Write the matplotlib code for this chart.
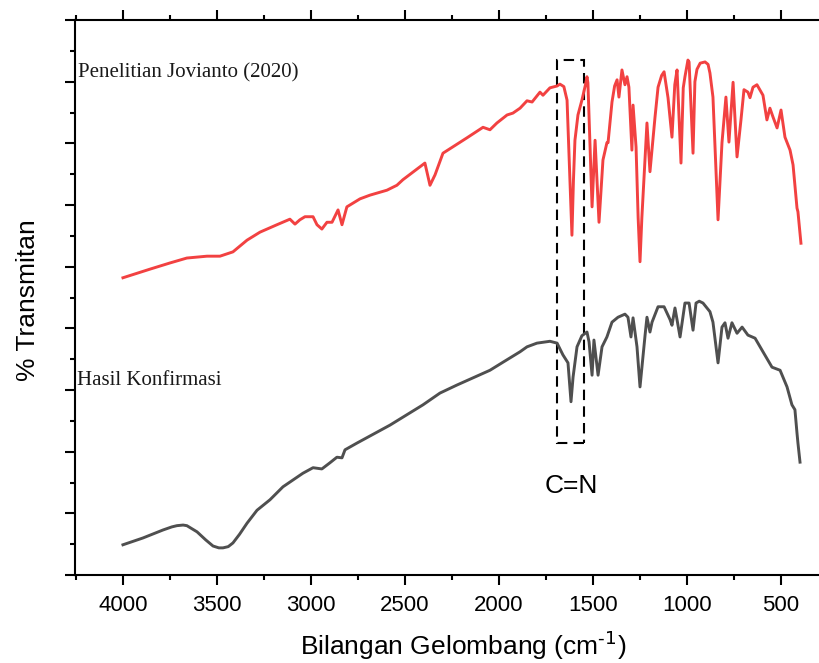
import matplotlib
matplotlib.use("Agg")
import matplotlib.pyplot as plt
from matplotlib.patches import Rectangle
from matplotlib.ticker import MultipleLocator

plt.rcParams["font.family"] = ["Liberation Sans", "DejaVu Sans"]

# spektrum penelitian Jovianto (2020)
wn_ref = [4000, 3856, 3750, 3660, 3553, 3484, 3415, 3340, 3271, 3181, 3112, 3085, 3059,
          3032, 2989, 2968, 2942, 2915, 2888, 2856, 2835, 2809, 2739, 2686, 2596, 2543,
          2511, 2394, 2367, 2340, 2298, 2170, 2085, 2048, 2011, 1957, 1926, 1888, 1851,
          1824, 1782, 1766, 1729, 1691, 1676, 1655, 1638, 1625, 1612, 1604, 1596, 1580,
          1559, 1540, 1532, 1527, 1505, 1489, 1468, 1447, 1426, 1420, 1399, 1385, 1372,
          1362, 1346, 1330, 1319, 1309, 1293, 1287, 1271, 1260, 1250, 1240, 1213, 1197,
          1170, 1154, 1135, 1122, 1101, 1080, 1065, 1053, 1032, 1020, 1011, 995, 989,
          968, 958, 947, 930, 904, 888, 878, 862, 835, 814, 793, 777, 755, 734, 713, 697,
          676, 665, 649, 628, 596, 575, 559, 543, 521, 500, 479, 452, 436, 415, 410, 394]
t_ref = [4.82, 4.96, 5.06, 5.14, 5.17, 5.17, 5.24, 5.43, 5.56, 5.68, 5.77, 5.69, 5.76,
         5.81, 5.81, 5.68, 5.61, 5.72, 5.72, 5.92, 5.68, 5.97, 6.10, 6.16, 6.24, 6.32,
         6.41, 6.68, 6.32, 6.49, 6.84, 7.09, 7.26, 7.22, 7.33, 7.46, 7.49, 7.57, 7.69,
         7.67, 7.83, 7.78, 7.90, 7.93, 7.96, 7.92, 7.70, 6.60, 5.51, 6.40, 7.05, 7.46,
         7.70, 7.95, 8.08, 7.98, 5.97, 7.05, 5.72, 6.73, 7.01, 7.01, 7.67, 7.93, 8.03,
         7.75, 8.19, 7.95, 8.08, 7.91, 6.89, 7.62, 6.94, 5.80, 5.08, 5.80, 7.33, 6.54,
         7.43, 7.91, 8.10, 8.16, 7.74, 7.10, 7.95, 8.19, 6.68, 7.90, 8.08, 8.35, 8.32,
         6.84, 8.00, 8.20, 8.30, 8.32, 8.28, 8.14, 7.75, 5.76, 7.01, 7.75, 7.02, 7.99,
         6.78, 7.38, 7.87, 7.83, 7.74, 7.91, 7.95, 7.78, 7.38, 7.57, 7.43, 7.25, 7.54,
         7.10, 6.89, 6.65, 5.95, 5.89, 5.38]

# spektrum hasil konfirmasi
wn_hasil = [4000, 3894, 3787, 3740, 3713, 3680, 3660, 3606, 3560, 3521, 3490, 3468, 3440,
            3415, 3380, 3340, 3287, 3218, 3149, 3096, 3043, 2989, 2942, 2899, 2862, 2835,
            2819, 2755, 2580, 2404, 2314, 2224, 2048, 1979, 1888, 1851, 1798, 1729, 1691,
            1660, 1633, 1617, 1606, 1585, 1559, 1532, 1521, 1505, 1495, 1473, 1452, 1426,
            1399, 1367, 1330, 1314, 1298, 1287, 1266, 1250, 1223, 1213, 1197, 1186, 1154,
            1122, 1090, 1080, 1064, 1037, 1011, 989, 968, 952, 935, 915, 878, 862, 835,
            814, 798, 782, 761, 734, 707, 676, 638, 596, 548, 505, 468, 442, 426, 415,
            410, 399]
t_hasil = [0.49, 0.60, 0.73, 0.78, 0.80, 0.81, 0.80, 0.70, 0.57, 0.47, 0.44, 0.44, 0.46,
           0.52, 0.66, 0.84, 1.05, 1.22, 1.43, 1.54, 1.65, 1.74, 1.72, 1.82, 1.91, 1.90,
           2.03, 2.14, 2.43, 2.76, 2.95, 3.08, 3.32, 3.45, 3.62, 3.70, 3.76, 3.79, 3.76,
           3.57, 3.44, 2.81, 3.21, 3.70, 3.88, 3.94, 3.78, 3.24, 3.81, 3.24, 3.70, 3.86,
           4.10, 4.18, 4.23, 4.18, 3.86, 4.17, 3.70, 3.05, 3.89, 4.18, 3.94, 4.10, 4.35,
           4.35, 4.14, 4.05, 4.33, 3.86, 4.41, 4.41, 3.97, 4.41, 4.44, 4.41, 4.27, 4.10,
           3.44, 4.02, 4.09, 3.84, 4.09, 3.92, 4.02, 3.89, 3.84, 3.62, 3.37, 3.32, 3.05,
           2.76, 2.68, 2.30, 2.14, 1.83]

# kotak penanda C=N
box_wn = (1692, 1548)
box_t = (2.14, 8.35)

fig = plt.figure(figsize=(8.19, 6.63), dpi=100)
ax = fig.add_axes([75 / 819, 88 / 663, 744 / 819, 555 / 663])

ax.plot(wn_ref, t_ref, color="#F24141", linewidth=2.1, solid_joinstyle="round")
ax.plot(wn_hasil, t_hasil, color="#4F4F4F", linewidth=2.1, solid_joinstyle="round")

ax.add_patch(Rectangle(
    (box_wn[1], box_t[0]),
    box_wn[0] - box_wn[1],
    box_t[1] - box_t[0],
    fill=False,
    edgecolor="black",
    linewidth=1.5,
    linestyle=(0, (5, 3))
))

ax.text(1617, 1.33, "C=N", fontsize=19, ha="center", va="baseline")
ax.text(4239, 8.06, "Penelitian Jovianto (2020)", fontsize=15,
        family="Liberation Serif", color="#1a1a1a", va="baseline")
ax.text(4245, 3.08, "Hasil Konfirmasi", fontsize=15,
        family="Liberation Serif", color="#1a1a1a", va="baseline")

ax.set_xlim(4255, 298)
ax.set_ylim(0, 9)

ax.xaxis.set_major_locator(MultipleLocator(500))
ax.xaxis.set_minor_locator(MultipleLocator(250))
ax.yaxis.set_major_locator(MultipleLocator(1))
ax.yaxis.set_minor_locator(MultipleLocator(0.5))

ax.tick_params(which="both", direction="out", width=1.5, top=True, labeltop=False,
               left=True, labelleft=False, right=False, labelsize=16, pad=7)
ax.tick_params(which="major", length=7.5)
ax.tick_params(which="minor", length=3.8)

for side in ["left", "bottom", "top"]:
    ax.spines[side].set_linewidth(1.5)
ax.spines["right"].set_visible(False)

ax.set_xlabel(r"Bilangan Gelombang (cm$^{\text{-1}}$)", fontsize=19)
ax.set_ylabel("% Transmitan", fontsize=19)
ax.xaxis.set_label_coords(0.522, -0.097)
ax.yaxis.set_label_coords(-0.0464, 0.495)

fig.savefig("out.png", dpi=100)
